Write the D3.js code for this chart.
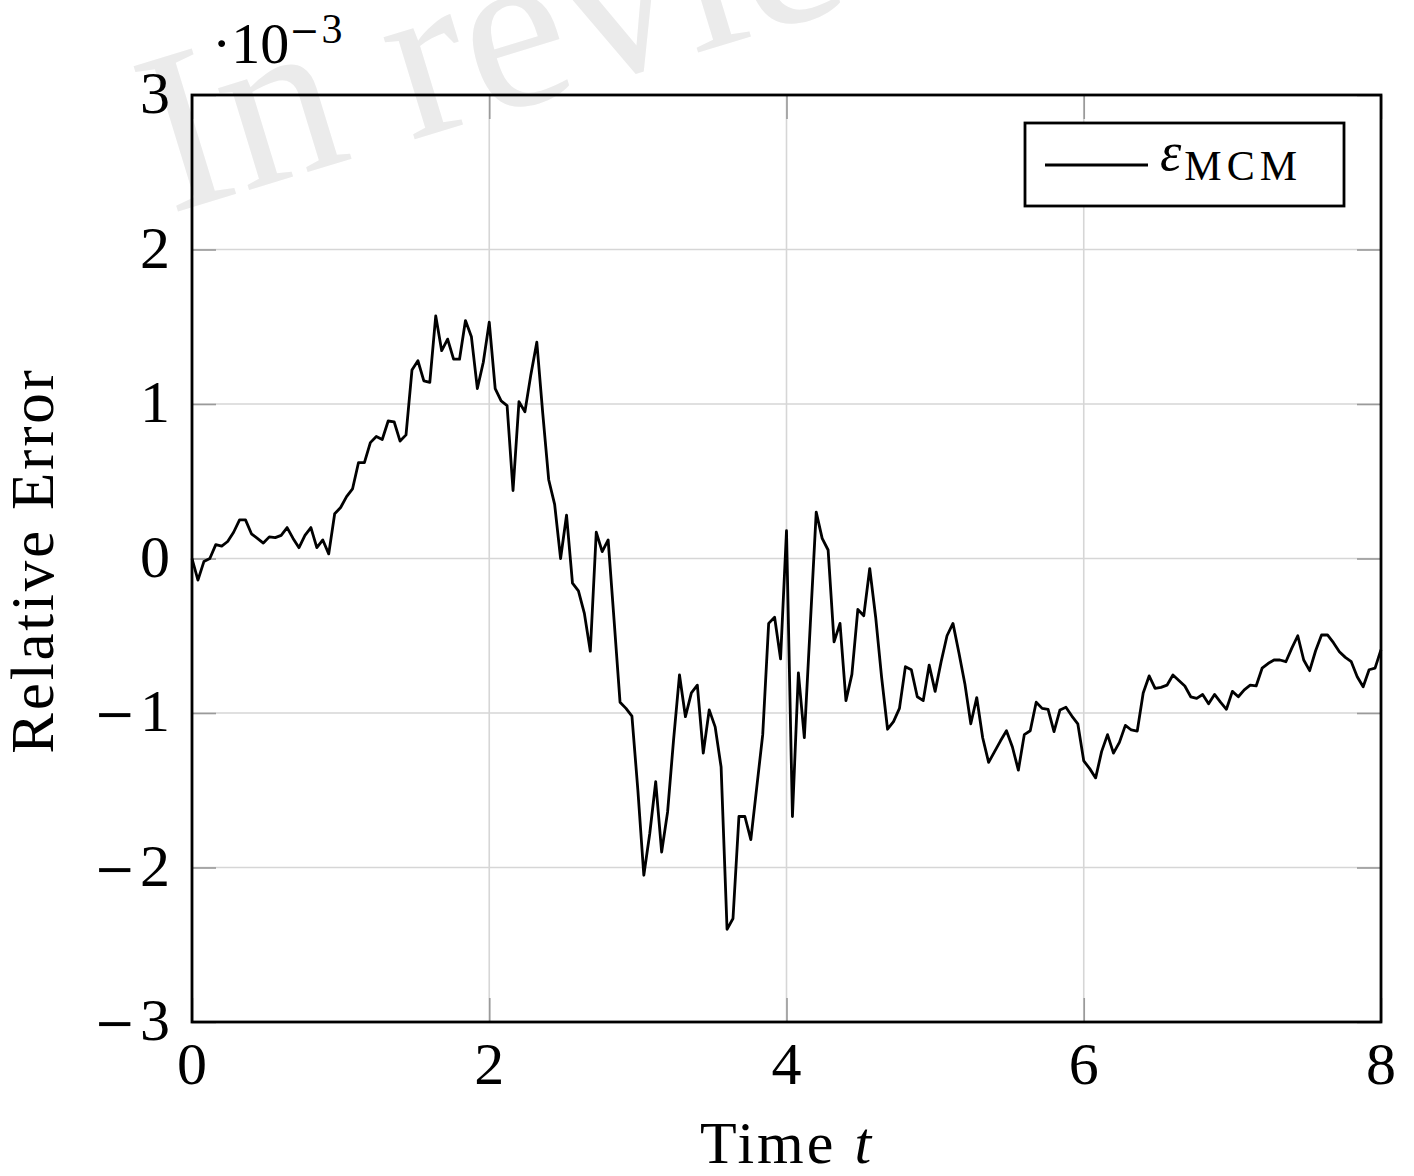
<!DOCTYPE html>
<html>
<head>
<meta charset="utf-8">
<script src="https://cdn.jsdelivr.net/npm/d3@7"></script>
<style>
  html, body { margin: 0; padding: 0; background: #fff; }
  svg { display: block; }
  text { font-family: "Liberation Serif", "DejaVu Serif", serif; fill: #000; }
</style>
</head>
<body>
<svg id="chart" width="1414" height="1176"></svg>
<script>
// Sample times t
const times = [
  0.00,0.04,0.08,0.12,0.16,0.20,0.24,0.28,0.32,0.36,
  0.40,0.44,0.48,0.52,0.56,0.60,0.64,0.68,0.72,0.76,
  0.80,0.84,0.88,0.92,0.96,1.00,1.04,1.08,1.12,1.16,
  1.20,1.24,1.28,1.32,1.36,1.40,1.44,1.48,1.52,1.56,
  1.60,1.64,1.68,1.72,1.76,1.80,1.84,1.88,1.92,1.96,
  2.00,2.04,2.08,2.12,2.16,2.20,2.24,2.28,2.32,2.36,
  2.40,2.44,2.48,2.52,2.56,2.60,2.64,2.68,2.72,2.76,
  2.80,2.84,2.88,2.92,2.96,3.00,3.04,3.08,3.12,3.16,
  3.20,3.24,3.28,3.32,3.36,3.40,3.44,3.48,3.52,3.56,
  3.60,3.64,3.68,3.72,3.76,3.80,3.84,3.88,3.92,3.96,
  4.00,4.04,4.08,4.12,4.16,4.20,4.24,4.28,4.32,4.36,
  4.40,4.44,4.48,4.52,4.56,4.60,4.64,4.68,4.72,4.76,
  4.80,4.84,4.88,4.92,4.96,5.00,5.04,5.08,5.12,5.16,
  5.20,5.24,5.28,5.32,5.36,5.40,5.44,5.48,5.52,5.56,
  5.60,5.64,5.68,5.72,5.76,5.80,5.84,5.88,5.92,5.96,
  6.00,6.04,6.08,6.12,6.16,6.20,6.24,6.28,6.32,6.36,
  6.40,6.44,6.48,6.52,6.56,6.60,6.64,6.68,6.72,6.76,
  6.80,6.84,6.88,6.92,6.96,7.00,7.04,7.08,7.12,7.16,
  7.20,7.24,7.28,7.32,7.36,7.40,7.44,7.48,7.52,7.56,
  7.60,7.64,7.68,7.72,7.76,7.80,7.84,7.88,7.92,7.96,
  8.00
];

// Relative error of the MCM solution, in units of 1e-3
const errorMCM = [
  0.00,-0.14,-0.02,0.00,0.09,0.08,0.11,0.17,0.25,0.25,
  0.16,0.13,0.10,0.14,0.135,0.15,0.20,0.13,0.07,0.15,
  0.20,0.07,0.12,0.03,0.29,0.33,0.40,0.45,0.62,0.62,
  0.75,0.79,0.77,0.89,0.885,0.76,0.80,1.22,1.28,1.15,
  1.14,1.57,1.345,1.42,1.29,1.29,1.54,1.435,1.10,1.27,
  1.53,1.10,1.02,0.99,0.44,1.015,0.95,1.19,1.40,0.94,
  0.51,0.35,0.00,0.28,-0.16,-0.21,-0.355,-0.60,0.17,0.045,
  0.12,-0.40,-0.93,-0.97,-1.02,-1.50,-2.05,-1.78,-1.445,-1.90,
  -1.64,-1.175,-0.754,-1.024,-0.87,-0.82,-1.26,-0.98,-1.09,-1.35,
  -2.40,-2.33,-1.67,-1.67,-1.82,-1.48,-1.14,-0.42,-0.38,-0.65,
  0.18,-1.67,-0.74,-1.16,-0.43,0.30,0.13,0.055,-0.54,-0.42,
  -0.92,-0.75,-0.33,-0.37,-0.065,-0.38,-0.77,-1.105,-1.056,-0.97,
  -0.70,-0.72,-0.895,-0.92,-0.69,-0.86,-0.67,-0.50,-0.42,-0.61,
  -0.81,-1.07,-0.90,-1.16,-1.32,-1.25,-1.18,-1.115,-1.22,-1.37,
  -1.14,-1.115,-0.93,-0.97,-0.976,-1.12,-0.98,-0.963,-1.02,-1.07,
  -1.31,-1.36,-1.42,-1.25,-1.14,-1.26,-1.19,-1.08,-1.11,-1.117,
  -0.87,-0.76,-0.84,-0.834,-0.82,-0.754,-0.79,-0.825,-0.895,-0.905,
  -0.88,-0.94,-0.88,-0.93,-0.976,-0.86,-0.895,-0.85,-0.82,-0.825,
  -0.71,-0.68,-0.657,-0.657,-0.668,-0.58,-0.50,-0.657,-0.726,-0.597,
  -0.495,-0.495,-0.545,-0.603,-0.64,-0.668,-0.765,-0.83,-0.72,-0.71,
  -0.59
];

const xTicks = [0, 2, 4, 6, 8];
const yTicks = [-3, -2, -1, 0, 1, 2, 3];

const svg = d3.select("#chart");
const margin = { left: 192, right: 33, top: 95, bottom: 154 };
const W = 1414, H = 1176;
const x0 = margin.left, x1 = W - margin.right;
const y0 = margin.top, y1 = H - margin.bottom;

const x = d3.scaleLinear().domain([0, 8]).range([x0, x1]);
const y = d3.scaleLinear().domain([-3, 3]).range([y1, y0]);

// faint watermark behind everything
svg.append("text")
  .attr("transform", "translate(170,214) rotate(-17)")
  .attr("font-size", 232)
  .style("fill", "#ebebeb")
  .text("In review");

// grid
const grid = svg.append("g");
grid.selectAll("line.gx").data(xTicks).join("line")
  .attr("x1", d => x(d)).attr("x2", d => x(d))
  .attr("y1", y0).attr("y2", y1)
  .attr("stroke", "#d6d6d6").attr("stroke-width", 1.6);
grid.selectAll("line.gy").data(yTicks).join("line")
  .attr("y1", d => y(d)).attr("y2", d => y(d))
  .attr("x1", x0).attr("x2", x1)
  .attr("stroke", "#d6d6d6").attr("stroke-width", 1.6);

// inward tick marks on all four sides
const tickLen = 24;
const axisL = d3.axisLeft(y).tickValues(yTicks).tickSizeInner(-tickLen).tickSizeOuter(0).tickFormat("");
const axisR = d3.axisRight(y).tickValues(yTicks).tickSizeInner(-tickLen).tickSizeOuter(0).tickFormat("");
const axisB = d3.axisBottom(x).tickValues(xTicks).tickSizeInner(-tickLen).tickSizeOuter(0).tickFormat("");
const axisT = d3.axisTop(x).tickValues(xTicks).tickSizeInner(-tickLen).tickSizeOuter(0).tickFormat("");
[[axisL, `translate(${x0},0)`], [axisR, `translate(${x1},0)`],
 [axisB, `translate(0,${y1})`], [axisT, `translate(0,${y0})`]].forEach(([ax, tr]) => {
  const g = svg.append("g").attr("transform", tr).call(ax);
  g.select(".domain").remove();
  g.selectAll(".tick line").attr("stroke", "#9a9a9a").attr("stroke-width", 1.6);
});

// tick labels (a wide minus sign, set in its own face)
function tickLabel(sel, d) {
  if (d < 0) {
    sel.append("tspan").style("font-family", "'DejaVu Serif', serif")
      .attr("font-size", 50).text("\u2212");
    sel.append("tspan").attr("dx", 4).text(Math.abs(d));
  } else {
    sel.append("tspan").text(d);
  }
}
svg.append("g").selectAll("text").data(yTicks).join("text")
  .attr("x", 170).attr("y", d => y(d) + 18)
  .attr("text-anchor", "end").attr("font-size", 60)
  .each(function (d) { tickLabel(d3.select(this), d); });
svg.append("g").selectAll("text").data(xTicks).join("text")
  .attr("x", d => x(d)).attr("y", 1084)
  .attr("text-anchor", "middle").attr("font-size", 60)
  .each(function (d) { tickLabel(d3.select(this), d); });

// exponent marker
const expo = svg.append("text").attr("x", 212).attr("y", 63).attr("font-size", 58);
expo.append("tspan").text("\u00b710");
expo.append("tspan").attr("dy", -20)
  .style("font-family", "'DejaVu Serif', serif").attr("font-size", 36).text("\u2212");
expo.append("tspan").attr("dx", 2).attr("font-size", 42).text("3");

// axis titles
const xt = svg.append("text").attr("x", 787).attr("y", 1163)
  .attr("text-anchor", "middle").attr("font-size", 60)
  .attr("letter-spacing", 3);
xt.append("tspan").text("Time ");
xt.append("tspan").attr("font-style", "italic").text("t");

svg.append("text")
  .attr("transform", `translate(53,${(y0 + y1) / 2 + 2}) rotate(-90)`)
  .attr("text-anchor", "middle").attr("font-size", 61)
  .attr("letter-spacing", 2.8)
  .text("Relative Error");

// data line
const line = d3.line().x((d, i) => x(times[i])).y(d => y(d));
svg.append("path")
  .datum(errorMCM)
  .attr("d", line)
  .attr("fill", "none").attr("stroke", "#000")
  .attr("stroke-width", 2.8).attr("stroke-linejoin", "round");

// frame
svg.append("rect")
  .attr("x", x0).attr("y", y0).attr("width", x1 - x0).attr("height", y1 - y0)
  .attr("fill", "none").attr("stroke", "#000").attr("stroke-width", 2.8);

// legend
const lg = svg.append("g");
lg.append("rect").attr("x", 1025).attr("y", 123).attr("width", 319).attr("height", 83)
  .attr("fill", "#fff").attr("stroke", "#000").attr("stroke-width", 2.8);
lg.append("line").attr("x1", 1045).attr("x2", 1148).attr("y1", 165).attr("y2", 165)
  .attr("stroke", "#000").attr("stroke-width", 2.8);
const lt = lg.append("text").attr("x", 1160).attr("y", 170).attr("font-size", 54);
lt.append("tspan").attr("font-style", "italic").text("\u03b5");
lt.append("tspan").attr("dx", 3).attr("dy", 10).attr("font-size", 42)
  .attr("letter-spacing", 5).text("MCM");
</script>
</body>
</html>
